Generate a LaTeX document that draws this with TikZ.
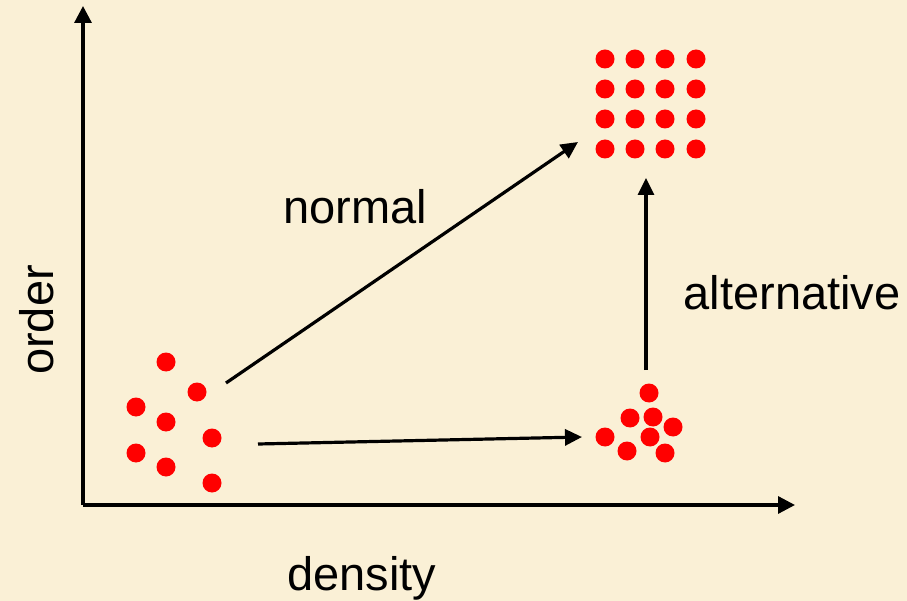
\documentclass[tikz,border=0pt]{standalone}
\usepackage{fontspec}
\setmainfont{Liberation Sans}
\usetikzlibrary{arrows.meta}
\definecolor{bg}{RGB}{250,240,214}
\definecolor{dotred}{RGB}{255,0,0}
\tikzset{
  dot/.style={circle,fill=dotred,inner sep=0pt,minimum size=19pt},
  axis/.style={line width=3.2pt,-{Triangle[length=17pt,width=17pt]}},
  conn/.style={line width=3.2pt,-{Triangle[length=17pt,width=16pt]}},
  lbl/.style={font=\fontsize{47}{56}\selectfont,inner sep=0pt}
}
\begin{document}
\begin{tikzpicture}[x=1pt,y=-1pt]
\fill[bg] (0,0) rectangle (907,601);
\useasboundingbox (0,0) rectangle (907,601);
% axes
\coordinate (O) at (83,505);
\coordinate (ytop) at (83,6);
\coordinate (xend) at (795,505);
\draw[axis] (O) -- (ytop);
\draw[axis] (O) -- (xend);
% disordered cluster
\foreach \x/\y [count=\i] in {166/362,197/392,136/407,166/422,212/438,136/453,166/467,212/483}
  \node[dot] (a\i) at (\x,\y) {};
% dense cluster
\foreach \x/\y [count=\i] in {649/393,630/418,653/417,673/427,605/437,650/437,627/451,665/453}
  \node[dot] (b\i) at (\x,\y) {};
% crystal
\foreach \x [count=\i] in {605,635,665,696}
  \foreach \y [count=\j] in {59,89,119,149}
    \node[dot] (c\i\j) at (\x,\y) {};
% arrow endpoints
\coordinate (n1) at (226,383);
\coordinate (n2) at (578,142);
\coordinate (h1) at (258,444);
\coordinate (h2) at (582,437);
\coordinate (v1) at (646,370);
\coordinate (v2) at (646,178);
\draw[conn] (n1) -- (n2);
\draw[conn] (h1) -- (h2);
\draw[conn] (v1) -- (v2);
% labels
\node[lbl] (normal) at (355,207) {normal};
\node[lbl] (alt) at (792,293) {alternative};
\node[lbl] (dens) at (362,578) {density};
\node[lbl,rotate=90] (ord) at (37,320) {order};
\end{tikzpicture}
\end{document}
